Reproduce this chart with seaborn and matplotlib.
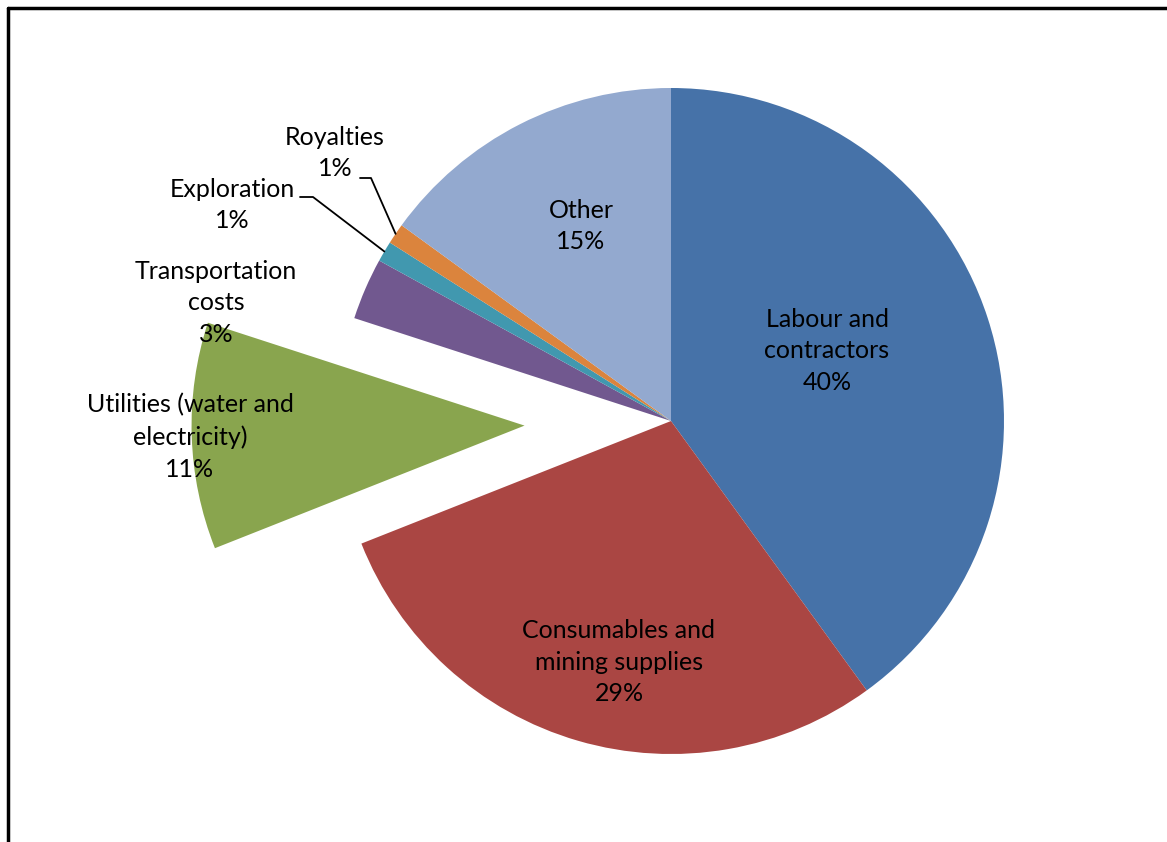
import matplotlib
matplotlib.use("Agg")
import matplotlib.pyplot as plt
import seaborn as sns
import numpy as np
from matplotlib.lines import Line2D

categories = ["Labour and\ncontractors", "Consumables and\nmining supplies",
              "Utilities (water and\nelectricity)", "Transportation\ncosts",
              "Exploration", "Royalties", "Other"]
shares = [40, 29, 11, 3, 1, 1, 15]
colors_hex = ["#4672A8", "#AA4643", "#89A54E", "#71588F", "#4198AF", "#DB843D", "#93A9CF"]

explode = [0, 0, 0.44, 0, 0, 0, 0]

W, H = 1167, 842
CX, CY, R = 671, 421, 333  # pie centre/radius in pixels

sns.set_theme(style="white")
plt.rcParams['font.family'] = ['Lato', 'DejaVu Sans']

fig = plt.figure(figsize=(W / 100, H / 100), dpi=100)
ax = fig.add_axes([0, 0, 1, 1])
palette = sns.color_palette(colors_hex)
wedges, _ = ax.pie(shares, colors=palette, startangle=90, counterclock=False,
                   explode=explode, radius=1, center=(0, 0),
                   wedgeprops=dict(linewidth=0))
ax.set_xlim((0 - CX) / R, (W - CX) / R)
ax.set_ylim((CY - H) / R, CY / R)
ax.set_aspect('auto')
ax.axis('off')

def px(x, y):
    return (x - CX) / R, (CY - y) / R

# label block centres in pixels
label_pos = [(827, 351), (619, 662), (190, 437), (216, 303), (232, 205), (335, 153), (581, 226)]
for cat, v, (lx, ly) in zip(categories, shares, label_pos):
    x, y = px(lx, ly)
    ax.text(x, y, f"{cat}\n{v}%", ha='center', va='center', fontsize=18,
            linespacing=1.45, color='black')

# leader lines for Exploration and Royalties
leader_starts = {4: [(300, 197), (313, 197)], 5: [(360, 178), (371, 178)]}
for i, pts in leader_starts.items():
    w = wedges[i]
    th = np.deg2rad((w.theta1 + w.theta2) / 2)
    ex = w.center[0] + w.r * np.cos(th)
    ey = w.center[1] + w.r * np.sin(th)
    xs = [px(*p)[0] for p in pts] + [ex]
    ys = [px(*p)[1] for p in pts] + [ey]
    ax.plot(xs, ys, color='black', lw=1.3)

# frame lines (left and top)
fig.add_artist(Line2D([8 / W, 8 / W], [0, 1 - 8 / H], color='black', lw=2.5, transform=fig.transFigure))
fig.add_artist(Line2D([8 / W, 1], [1 - 8 / H, 1 - 8 / H], color='black', lw=2.5, transform=fig.transFigure))

fig.savefig("out.png", dpi=100)
